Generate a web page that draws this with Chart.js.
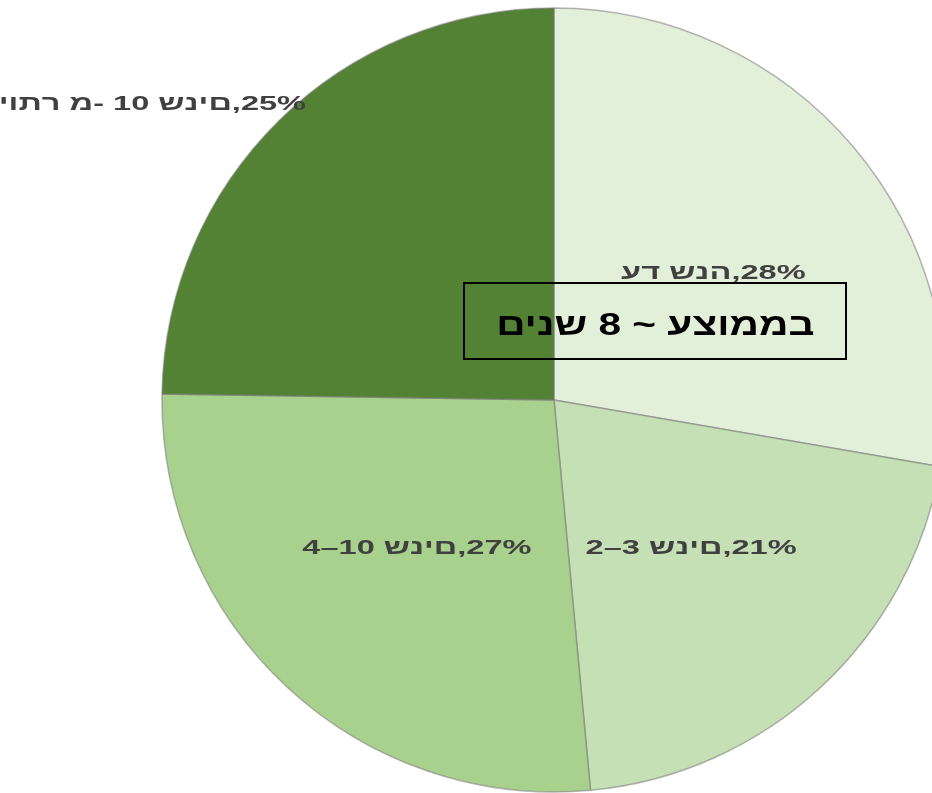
<!DOCTYPE html>
<html lang="he">
<head>
<meta charset="utf-8">
<script src="https://cdn.jsdelivr.net/npm/chart.js@4.4.1/dist/chart.umd.min.js"></script>
<style>
  html, body { margin: 0; padding: 0; background: #fff; }
  #wrap { position: relative; width: 932px; height: 793px; overflow: hidden; }
  #note {
    position: absolute; left: 463px; top: 282px; width: 384px; height: 78px;
    box-sizing: border-box; border: 2px solid #000;
    display: flex; align-items: center; justify-content: center;
    font: bold 32px "Liberation Sans", Arial, sans-serif; color: #000;
    direction: rtl; padding-top: 6px;
  }
  #note span { display: inline-block; transform: scaleX(1.27); white-space: nowrap; }
</style>
</head>
<body>
<div id="wrap">
  <canvas id="pieChart"></canvas>
  <div id="note"><span>בממוצע ~ 8 שנים</span></div>
</div>
<script>
// נתונים
const categories = ["עד שנה", "2–3 שנים", "4–10 שנים", "יותר מ- 10 שנים"];
const shares = [28, 21, 27, 25];
const sliceColors = ["#e2f0d9", "#c5e0b4", "#a9d18e", "#548235"];

// מיקום התוויות: יחס לרדיוס, הזזת זווית (מעלות), יישור
const labelPlace = [
    { r: 0.52, shift: 1.5, align: "center" },
    { r: 0.515, shift: 0, align: "center" },
    { r: 0.515, shift: 0, align: "center" },
    { r: 0.985, shift: 4.6, align: "right" }
];

// מצייר תו אחר תו משמאל לימין (כמו בתמונה המקורית) עם מתיחה אופקית
function drawLtr(ctx, text, x, y, align, sx) {
    const chars = Array.from(text);
    const widths = chars.map(c => ctx.measureText(c).width);
    const total = widths.reduce((a, b) => a + b, 0) * sx;
    const start = align === "center" ? x - total / 2 : align === "right" ? x - total : x;
    ctx.save();
    ctx.translate(start, y);
    ctx.scale(sx, 1);
    ctx.textAlign = "left";
    let cx = 0;
    chars.forEach((c, i) => {
        ctx.fillText(c, cx, 0);
        cx += widths[i];
    });
    ctx.restore();
}

const sliceLabels = {
    id: "sliceLabels",
    afterDatasetsDraw(chart) {
        const ctx = chart.ctx;
        const arcs = chart.getDatasetMeta(0).data;
        ctx.save();
        ctx.font = "bold 21px 'Liberation Sans', Arial, sans-serif";
        ctx.fillStyle = "#404040";
        ctx.textBaseline = "middle";
        ctx.direction = "ltr";
        arcs.forEach((arc, i) => {
            const p = labelPlace[i];
            const mid = (arc.startAngle + arc.endAngle) / 2 + p.shift * Math.PI / 180;
            const x = arc.x + Math.cos(mid) * arc.outerRadius * p.r;
            const y = arc.y + Math.sin(mid) * arc.outerRadius * p.r;
            drawLtr(ctx, categories[i] + "," + shares[i] + "%", x, y, p.align, 1.55);
        });
        ctx.restore();
    }
};

const ctxPie = document.getElementById("pieChart").getContext("2d");
new Chart(ctxPie, {
    type: "pie",
    data: {
        labels: categories,
        datasets: [{
            data: shares,
            backgroundColor: sliceColors,
            borderColor: "rgba(120,120,120,0.55)",
            borderWidth: 1.5,
            radius: 392,
            clip: false
        }]
    },
    options: {
        responsive: true,
        maintainAspectRatio: false,
        animation: false,
        layout: { padding: { left: 176, top: 7 } },
        plugins: {
            legend: { display: false },
            tooltip: { enabled: false }
        }
    },
    plugins: [sliceLabels]
});
</script>
</body>
</html>
